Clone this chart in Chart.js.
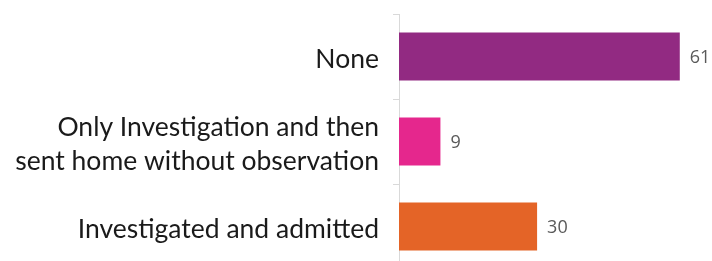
<!DOCTYPE html>
<html>
<head>
<meta charset="utf-8">
<script src="https://cdn.jsdelivr.net/npm/chart.js@4"></script>
<style>
  html, body { margin: 0; padding: 0; background: #fff; overflow: hidden; }
</style>
</head>
<body>
<canvas id="chart" width="712" height="269"></canvas>
<script>
// chart data
const categories = [
  'None',
  ['Only Investigation and then', 'sent home without observation'],
  'Investigated and admitted'
];
const values = [61, 9, 30];
const barColors = ['#922A82', '#E5278D', '#E46427'];

// draws the value just right of each bar
const valueLabels = {
  id: 'valueLabels',
  afterDatasetsDraw(chart) {
    const ctx = chart.ctx;
    const meta = chart.getDatasetMeta(0);
    ctx.save();
    ctx.fillStyle = '#595959';
    ctx.font = '18px "Open Sans"';
    ctx.textAlign = 'left';
    ctx.textBaseline = 'middle';
    meta.data.forEach((bar, i) => {
      ctx.fillText(values[i], bar.x + 10, bar.y + 1);
    });
    ctx.restore();
  }
};

const ctx = document.getElementById('chart').getContext('2d');
const chart = new Chart(ctx, {
  type: 'bar',
  data: {
    labels: categories,
    datasets: [{
      data: values,
      backgroundColor: barColors,
      categoryPercentage: 1,
      barPercentage: 0.567
    }]
  },
  options: {
    indexAxis: 'y',
    responsive: false,
    animation: false,
    layout: { padding: { top: 14, right: 0, bottom: 0, left: 0 } },
    plugins: {
      legend: { display: false },
      tooltip: { enabled: false }
    },
    scales: {
      x: {
        display: false,
        min: 0,
        max: 68
      },
      y: {
        afterFit(scale) {
          scale.width = 399;
          scale.paddingTop = 0;
          scale.paddingBottom = 0;
        },
        border: { display: true, color: '#d9d9d9', width: 1 },
        grid: {
          drawOnChartArea: false,
          drawTicks: true,
          tickLength: 6,
          color: '#d9d9d9'
        },
        ticks: {
          padding: 14,
          labelOffset: 3,
          color: '#1a1a1a',
          font: { family: 'Lato', size: 26.5, lineHeight: 1.3 }
        }
      }
    }
  },
  plugins: [valueLabels]
});
</script>
</body>
</html>
